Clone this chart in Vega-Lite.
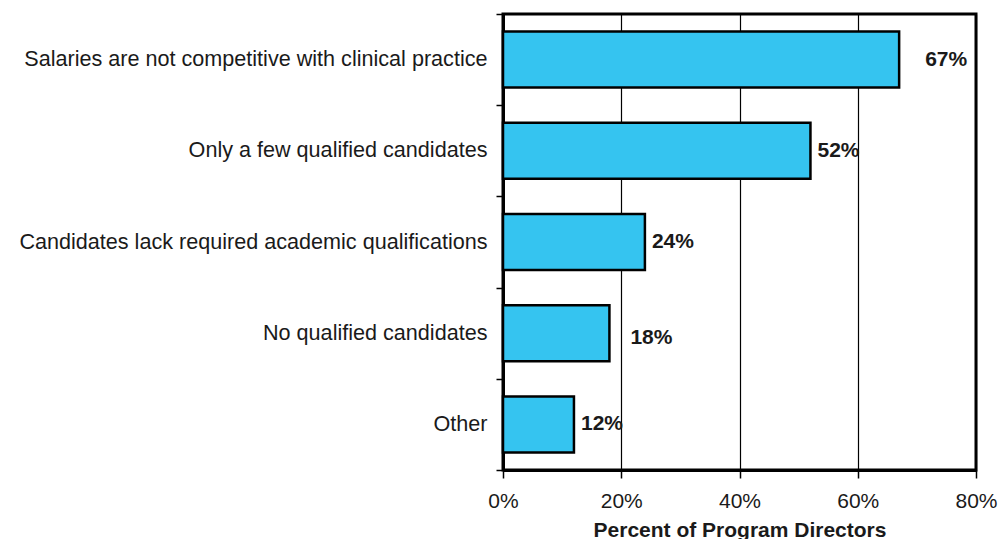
{
  "$schema": "https://vega.github.io/schema/vega-lite/v6.json",
  "width": 473,
  "height": 456,
  "autosize": {"type": "none"},
  "padding": {"left": 503, "top": 14, "right": 23, "bottom": 69},
  "background": "white",
  "config": {
    "font": "Liberation Sans",
    "view": {"stroke": "black", "strokeWidth": 3}
  },
  "data": {
    "values": [
      {"reason": "Salaries are not competitive with clinical practice", "pct": 67, "label": "67%"},
      {"reason": "Only a few qualified candidates", "pct": 52, "label": "52%"},
      {"reason": "Candidates lack required academic qualifications", "pct": 24, "label": "24%"},
      {"reason": "No qualified candidates", "pct": 18, "label": "18%"},
      {"reason": "Other", "pct": 12, "label": "12%"}
    ]
  },
  "encoding": {
    "y": {
      "field": "reason",
      "type": "nominal",
      "sort": null,
      "scale": {"paddingInner": 0, "paddingOuter": 0},
      "axis": {
        "title": null,
        "tickBand": "extent",
        "domainColor": "black",
        "domainWidth": 3,
        "tickColor": "black",
        "tickWidth": 1.5,
        "tickSize": 7,
        "labelPadding": 9,
        "labelFont": "Liberation Sans",
        "labelFontSize": 21.6,
        "labelColor": "#1a1a1a",
        "labelLimit": 600
      }
    },
    "x": {
      "field": "pct",
      "type": "quantitative",
      "scale": {"domain": [0, 80], "nice": false},
      "axis": {
        "title": "Percent of Program Directors",
        "values": [0, 20, 40, 60, 80],
        "labelExpr": "datum.value + '%'",
        "grid": true,
        "gridColor": "black",
        "gridWidth": 1.2,
        "gridOpacity": 1,
        "domainColor": "black",
        "domainWidth": 3,
        "tickColor": "black",
        "tickWidth": 1.5,
        "tickSize": 8,
        "labelPadding": 12,
        "labelFont": "Liberation Sans",
        "labelFontSize": 21,
        "labelColor": "#1a1a1a",
        "labelFlush": false,
        "titleFont": "Liberation Sans",
        "titleFontSize": 21,
        "titleFontWeight": "bold",
        "titleColor": "#1a1a1a",
        "titlePadding": 8
      }
    }
  },
  "layer": [
    {
      "mark": {"type": "bar", "fill": "#35C4F0", "stroke": "black", "strokeWidth": 2.5, "height": {"band": 0.614}}
    },
    {
      "transform": [{"filter": "datum.pct == 52 || datum.pct == 24 || datum.pct == 12"}],
      "mark": {"type": "text", "align": "left", "baseline": "middle", "dx": 7, "fontSize": 21, "fontWeight": "bold", "color": "#1a1a1a"},
      "encoding": {"text": {"field": "label"}}
    },
    {
      "transform": [{"filter": "datum.pct == 67"}],
      "mark": {"type": "text", "align": "left", "baseline": "middle", "dx": 26, "fontSize": 21, "fontWeight": "bold", "color": "#1a1a1a"},
      "encoding": {"text": {"field": "label"}}
    },
    {
      "transform": [{"filter": "datum.pct == 18"}],
      "mark": {"type": "text", "align": "left", "baseline": "middle", "dx": 21, "dy": 5, "fontSize": 21, "fontWeight": "bold", "color": "#1a1a1a"},
      "encoding": {"text": {"field": "label"}}
    }
  ]
}
